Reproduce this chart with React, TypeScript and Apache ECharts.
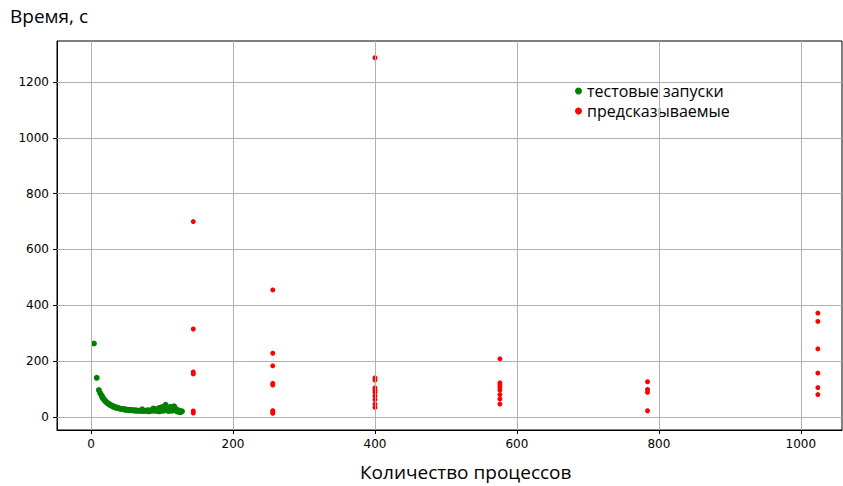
import React, { useEffect, useRef } from "react";
import * as echarts from "echarts";

const xTicks = [0, 200, 400, 600, 800, 1000];
const yTicks = [0, 200, 400, 600, 800, 1000, 1200];

const testProcs = [4, 8, 11, 13, 15, 16, 17, 19, 20, 21, 23, 24, 25, 27, 28, 29, 31, 32, 33, 35, 36, 37, 39, 40, 42, 44, 45, 47, 48, 50, 52, 54, 55, 56, 58, 60, 62, 63, 64, 66, 68, 70, 72, 72, 74, 76, 78, 80, 81, 82, 84, 86, 88, 88, 90, 91, 92, 94, 96, 96, 98, 99, 100, 100, 102, 104, 105, 106, 108, 108, 110, 112, 112, 114, 115, 116, 117, 118, 120, 120, 121, 122, 124, 125, 126, 128];
const testTimes = [263, 140, 96, 84, 76, 70, 66, 60, 57, 54, 50, 48, 46, 43, 41, 40, 38, 37, 35, 34, 33, 32, 31, 30, 29, 28, 28, 27, 26, 26, 25, 25, 24, 24, 24, 23, 23, 22, 23, 22, 22, 22, 27, 21, 22, 21, 22, 24, 20, 21, 21, 26, 22, 30, 28, 22, 24, 21, 32, 20, 25, 22, 28, 35, 22, 26, 43, 24, 22, 30, 21, 28, 36, 22, 25, 24, 38, 30, 22, 27, 20, 24, 18, 22, 17, 20];

const predProcs = [144, 144, 144, 144, 144, 144, 256, 256, 256, 256, 256, 256, 256, 256, 400, 400, 400, 400, 400, 400, 400, 400, 400, 400, 576, 576, 576, 576, 576, 576, 576, 576, 784, 784, 784, 784, 1024, 1024, 1024, 1024, 1024, 1024];
const predTimes = [700, 315, 161, 154, 21, 14, 455, 228, 183, 120, 114, 22, 17, 13, 1287, 140, 132, 104, 96, 88, 75, 62, 46, 34, 208, 122, 114, 106, 96, 80, 64, 46, 126, 98, 88, 22, 372, 342, 244, 157, 105, 80];

const seriesNames = ["тестовые запуски", "предсказываемые"];

export default function App() {
  const ref = useRef<HTMLDivElement>(null);
  useEffect(() => {
    const chart = echarts.init(ref.current!, null, { renderer: "svg" });
    const tickFont = { fontFamily: "DejaVu Sans", fontSize: 12, color: "#000", formatter: (v: number) => String(v) };
    const gridLine = { color: "#b0b0b0", width: 1, type: "solid" as const };
    chart.setOption({
      animation: false,
      backgroundColor: "#fff",
      grid: { left: 57, right: 1, top: 41, bottom: 56, show: true, borderColor: "#000", borderWidth: 1, backgroundColor: "transparent" },
      xAxis: {
        type: "value",
        min: -48,
        max: 1058,
        splitLine: { show: false },
        axisLine: { show: true, onZero: false, lineStyle: { color: "#000" } },
        axisTick: { show: true, inside: false, length: 4, customValues: xTicks, lineStyle: { color: "#000" } },
        axisLabel: { customValues: xTicks, margin: 8, ...tickFont },
      },
      yAxis: {
        type: "value",
        min: -47,
        max: 1347,
        splitLine: { show: false },
        axisLine: { show: true, onZero: false, lineStyle: { color: "#000" } },
        axisTick: { show: true, inside: false, length: 4, customValues: yTicks, lineStyle: { color: "#000" } },
        axisLabel: { customValues: yTicks, margin: 8, ...tickFont },
      },
      legend: {
        orient: "vertical",
        left: 570,
        top: 78,
        icon: "circle",
        itemWidth: 7,
        itemHeight: 7,
        itemGap: 4,
        data: seriesNames,
        textStyle: { fontFamily: "Open Sans", fontSize: 16, color: "#000" },
      },
      graphic: [
        { type: "text", left: 10, top: 6, style: { text: "Время, с", font: "19px 'Open Sans'", fill: "#000" } },
        { type: "text", left: 360, top: 462, style: { text: "Количество процессов", font: "19px 'Open Sans'", fill: "#000" } },
      ],
      series: [
        {
          type: "scatter",
          data: [],
          silent: true,
          z: 0,
          markLine: {
            silent: true,
            symbol: ["none", "none"],
            label: { show: false },
            lineStyle: gridLine,
            data: [...xTicks.map((v) => ({ xAxis: v })), ...yTicks.map((v) => ({ yAxis: v }))],
          },
        },
        {
          name: seriesNames[0],
          type: "scatter",
          symbolSize: 6,
          itemStyle: { color: "#008000", opacity: 1 },
          z: 3,
          data: testProcs.map((p, i) => [p, testTimes[i]]),
        },
        {
          name: seriesNames[1],
          type: "scatter",
          symbolSize: 5,
          itemStyle: { color: "#ff0000", opacity: 1 },
          z: 3,
          data: predProcs.map((p, i) => [p, predTimes[i]]),
        },
      ],
    });
    return () => chart.dispose();
  }, []);
  return <div ref={ref} style={{ width: 843, height: 486, position: "absolute", left: 0, top: 0 }} />;
}
